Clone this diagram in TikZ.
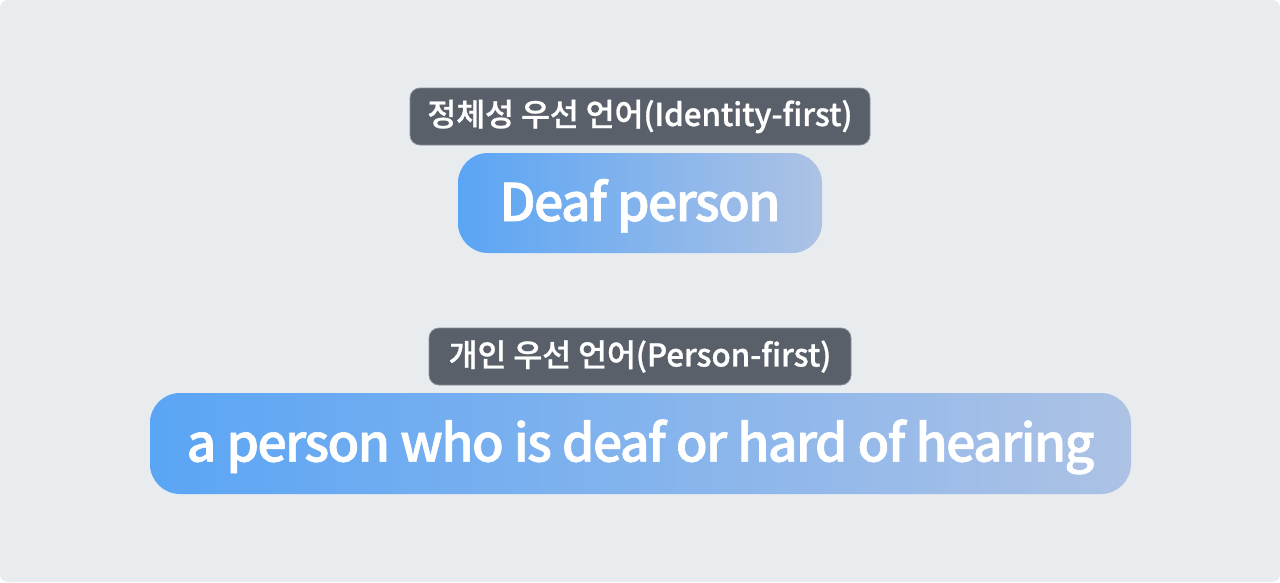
\documentclass[tikz,border=0pt]{standalone}
\usepackage{fontspec}
\newfontfamily\kr{Noto Sans CJK KR}[UprightFont=* Medium,LetterSpace=-0.5,FakeBold=0.8]
\newfontfamily\krb{Noto Sans CJK KR}[UprightFont=* Medium,LetterSpace=-3.4,FakeBold=1.2]
\definecolor{bg}{HTML}{E8ECEF}
\definecolor{tagfill}{HTML}{5A6069}
\definecolor{tagline}{HTML}{8A9099}
\definecolor{bl}{HTML}{5AA5F5}
\definecolor{br}{HTML}{ADC2E5}
\begin{document}
\begin{tikzpicture}[x=1pt,y=-1pt,
  tag/.style={draw=tagline,line width=0.8pt,fill=tagfill,rounded corners=10pt,text=white,
    font=\kr\fontsize{31.5}{34}\selectfont,inner sep=0pt,anchor=center},
  pill/.style={left color=bl,right color=br,rounded corners=30pt,text=white,
    font=\krb\fontsize{52}{58}\selectfont,inner sep=0pt,anchor=center,text depth=6pt}]
\useasboundingbox (0,0) rectangle (1280,582);
\fill[white] (0,0) rectangle (1280,582);
\fill[bg,rounded corners=8pt] (0,0) rectangle (1280,582);
\node[tag,minimum width=460pt,minimum height=57pt] (t1) at (640,116.5) {정체성 우선 언어(Identity-first)};
\node[pill,minimum width=364pt,minimum height=100pt] (p1) at (640,203) {Deaf person};
\node[tag,minimum width=422pt,minimum height=57pt] (t2) at (640,356.5) {개인 우선 언어(Person-first)};
\node[pill,minimum width=981pt,minimum height=101pt] (p2) at (640.5,443.5) {a person who is deaf or hard of hearing};
\end{tikzpicture}
\end{document}
